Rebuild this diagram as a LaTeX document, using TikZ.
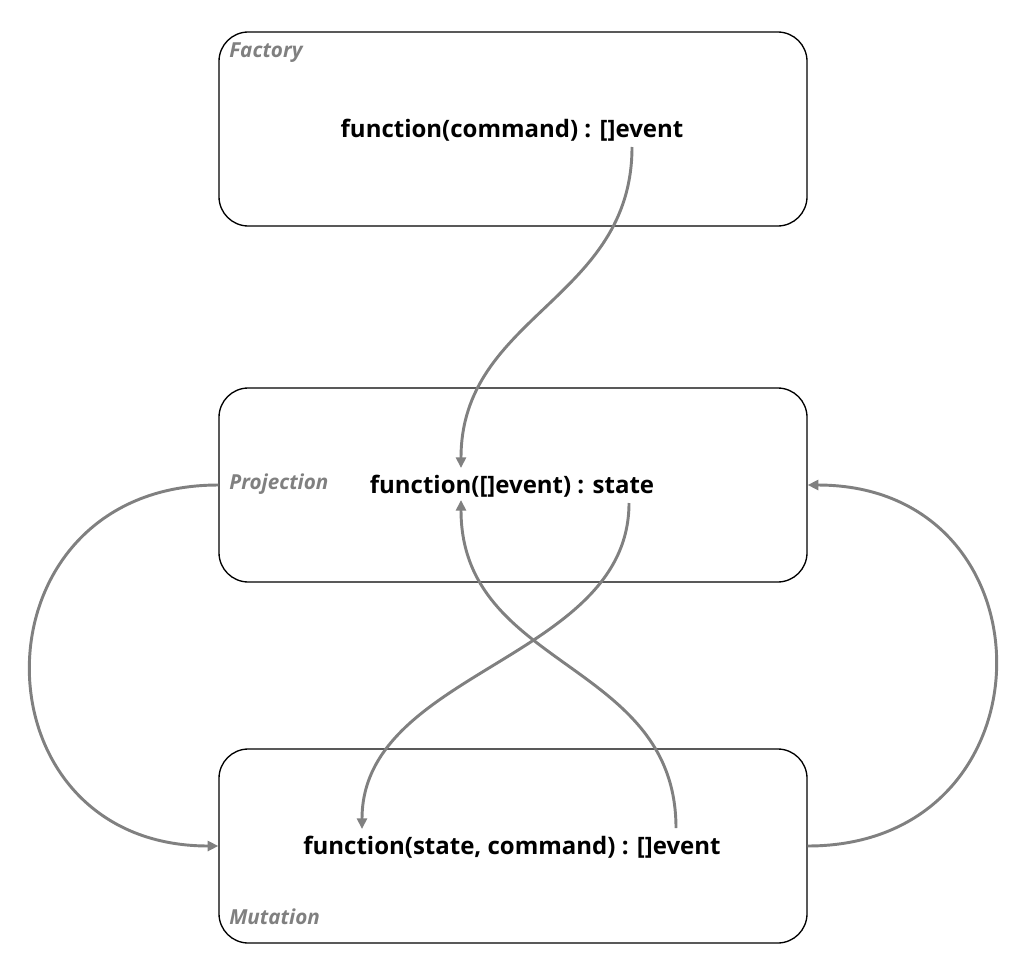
\documentclass[tikz,border=0pt]{standalone}
\usepackage{fontspec}
\setmainfont{Open Sans}
\usetikzlibrary{arrows.meta, positioning}
\definecolor{flowgray}{HTML}{808080}
\tikzset{
  stage/.style={draw=black, line width=1pt, rounded corners=22pt,
    minimum width=441pt, minimum height=145.5pt},
  signature/.style={font=\fontsize{18}{20}\selectfont\bfseries, inner sep=0pt},
  tag/.style={font=\fontsize{15.5}{17}\selectfont\bfseries\itshape, text=flowgray, inner sep=0pt, anchor=west},
  flow/.style={draw=flowgray, line width=2.2pt, -{Triangle[length=8pt, width=7.5pt]}}
}
\begin{document}
\begin{tikzpicture}[x=0.75pt, y=-0.75pt]
  \useasboundingbox (0,0) rectangle (1023,977);
  % stages
  \node[stage] (factory) at (513,129) {};
  \node[stage] (projection) at (513,485) {};
  \node[stage] (mutation) at (513,846) {};
  \node[tag] (factorytag) at (229,53) {Factory};
  \node[tag] (projectiontag) at (229,484) {Projection};
  \node[tag] (mutationtag) at (229,917) {Mutation};
  % signatures
  \node[signature] (cmdfn) at (512,130) {function(command) : []event};
  \node[signature] (statefn) at (512,486) {function([]event) : state};
  \node[signature] (eventfn) at (512,847) {function(state, command) : []event};
  % connector ends
  \coordinate (cmdout) at (632,147);
  \coordinate (statein) at (461,468);
  \coordinate (stateout) at (629,503);
  \coordinate (eventin) at (362,829);
  \coordinate (eventout) at (676,828);
  \coordinate (replayin) at (461,500);
  % flows
  \draw[flow] (cmdout) .. controls (632,300) and (461,315) .. (statein);
  \draw[flow] (stateout) .. controls (629,660) and (362,670) .. (eventin);
  \draw[flow] (eventout) .. controls (676,660) and (461,670) .. (replayin);
  \draw[flow] (projection.west) .. controls (-32,485) and (-32,846) .. (mutation.west);
  \draw[flow] (mutation.east) .. controls (1058,846) and (1058,485) .. (projection.east);
\end{tikzpicture}
\end{document}
